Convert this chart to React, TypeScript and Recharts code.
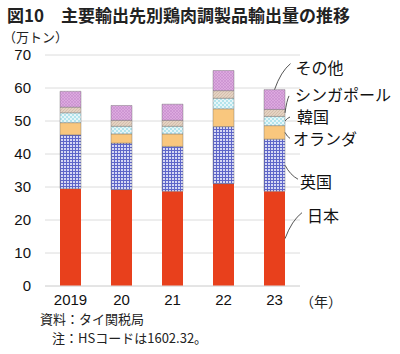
import React from "react";
import { BarChart, Bar, XAxis, YAxis, CartesianGrid, LabelList } from "recharts";

const years = ["2019", "20", "21", "22", "23"];
const japan = [29.5, 29.2, 28.7, 31.0, 28.7];
const uk = [16.3, 14.1, 13.6, 17.3, 15.8];
const netherlands = [3.7, 2.8, 3.8, 5.4, 4.1];
const korea = [3.0, 2.3, 2.3, 3.2, 2.8];
const singapore = [1.7, 1.8, 1.8, 2.3, 2.1];
const others = [4.8, 4.5, 4.9, 6.1, 6.0];
const yTicks = [0, 10, 20, 30, 40, 50, 60, 70];

const data = years.map((y, i) => ({
  year: y,
  japan: japan[i],
  uk: uk[i],
  netherlands: netherlands[i],
  korea: korea[i],
  singapore: singapore[i],
  others: others[i],
}));

const jpFont = "'Noto Sans CJK JP', 'Liberation Sans', sans-serif";

// where each series' name sits next to the last bar (offsets from the segment edge)
const labelPos: Record<string, { name: string; lx: number; ly: number; tx: number; ty: number; top?: boolean }> = {
  japan: { name: "日本", lx: 17, ly: -26, tx: 22, ty: -24 },
  uk: { name: "英国", lx: 13, ly: 14, tx: 15, ty: 16 },
  netherlands: { name: "オランダ", lx: 5, ly: 6, tx: 8, ty: 6 },
  korea: { name: "韓国", lx: 5, ly: -4, tx: 12, ty: -5 },
  singapore: { name: "シンガポール", lx: 4, ly: -17, tx: 10, ty: -19 },
  others: { name: "その他", lx: 16, ly: -26, tx: 21, ty: -23, top: true },
};

const makeLabel = (key: string) => (props: any) => {
  if (props.index !== years.length - 1) return null;
  const vb = props.viewBox || {};
  const x = props.x ?? vb.x;
  const y = props.y ?? vb.y;
  const w = props.width ?? vb.width;
  const hRaw = props.height ?? vb.height;
  const top = hRaw < 0 ? y + hRaw : y;
  const h = Math.abs(hRaw);
  const p = labelPos[key];
  const sx = p.top ? x + w / 2 : x + w;
  const sy = p.top ? top : top + h / 2;
  return (
    <g>
      <path
        d={`M${sx},${sy} Q${sx + p.lx * 0.4},${sy + p.ly * 0.7} ${sx + p.lx},${sy + p.ly}`}
        stroke="#555"
        strokeWidth={1}
        fill="none"
      />
      <text
        x={sx + p.tx}
        y={sy + p.ty}
        dominantBaseline="central"
        fontSize={16}
        fontFamily={jpFont}
        fill="#111"
      >
        {p.name}
      </text>
    </g>
  );
};

const barStroke = "#666";

export default function App() {
  return (
    <div style={{ position: "absolute", left: 0, top: 0, width: 400, height: 354, background: "#fff", fontFamily: jpFont }}>
      <div style={{ position: "absolute", left: 7, top: 5, fontSize: 17, lineHeight: "20px", fontWeight: 700, color: "#222", whiteSpace: "nowrap" }}>
        図10　主要輸出先別鶏肉調製品輸出量の推移
      </div>
      <div style={{ position: "absolute", left: 3, top: 30, fontSize: 13, lineHeight: "14px", color: "#222" }}>（万トン）</div>
      <BarChart
        width={400}
        height={354}
        data={data}
        margin={{ top: 55, right: 100, bottom: 38, left: 0 }}
        barSize={21}
      >
        <defs>
          <pattern id="pUk" width="3" height="3" patternUnits="userSpaceOnUse">
            <rect width="3" height="3" fill="#d6d8f4" />
            <path d="M0,0.5 H3 M0.5,0 V3" stroke="#5e66c9" strokeWidth="1" />
          </pattern>
          <pattern id="pKorea" width="4" height="4" patternUnits="userSpaceOnUse">
            <rect width="4" height="4" fill="#b3e4ec" />
            <circle cx="1" cy="1" r="0.9" fill="#fff" />
            <circle cx="3" cy="3" r="0.9" fill="#fff" />
          </pattern>
          <pattern id="pSing" width="3" height="3" patternUnits="userSpaceOnUse">
            <rect width="3" height="3" fill="#e4d2c2" />
            <path d="M0,3 L3,0" stroke="#c9b2a0" strokeWidth="0.6" />
          </pattern>
          <pattern id="pOther" width="3" height="3" patternUnits="userSpaceOnUse">
            <rect width="3" height="3" fill="#dca9df" />
            <path d="M0,3 L3,0 M0,0 L3,3" stroke="#c286c8" strokeWidth="0.5" />
          </pattern>
        </defs>
        <CartesianGrid vertical={false} stroke="#dcdcdc" />
        <XAxis
          dataKey="year"
          axisLine={{ stroke: "#dcdcdc" }}
          tickLine={false}
          height={30}
          tick={{ fontSize: 15, fill: "#111", fontFamily: "'Liberation Sans', Arial, sans-serif" }}
        />
        <YAxis
          width={45}
          domain={[0, 70]}
          ticks={yTicks}
          axisLine={false}
          tickLine={false}
          tickSize={12}
          tickMargin={2}
          tick={{ fontSize: 15, fill: "#111", fontFamily: "'Liberation Sans', Arial, sans-serif" }}
        />
        <Bar dataKey="japan" stackId="a" fill="#e8401c" isAnimationActive={false}>
          <LabelList dataKey="japan" content={makeLabel("japan")} />
        </Bar>
        <Bar dataKey="uk" stackId="a" fill="url(#pUk)" stroke={barStroke} strokeWidth={0.4} isAnimationActive={false}>
          <LabelList dataKey="uk" content={makeLabel("uk")} />
        </Bar>
        <Bar dataKey="netherlands" stackId="a" fill="#f9c77e" stroke={barStroke} strokeWidth={0.4} isAnimationActive={false}>
          <LabelList dataKey="netherlands" content={makeLabel("netherlands")} />
        </Bar>
        <Bar dataKey="korea" stackId="a" fill="url(#pKorea)" stroke={barStroke} strokeWidth={0.4} isAnimationActive={false}>
          <LabelList dataKey="korea" content={makeLabel("korea")} />
        </Bar>
        <Bar dataKey="singapore" stackId="a" fill="url(#pSing)" stroke={barStroke} strokeWidth={0.4} isAnimationActive={false}>
          <LabelList dataKey="singapore" content={makeLabel("singapore")} />
        </Bar>
        <Bar dataKey="others" stackId="a" fill="url(#pOther)" stroke={barStroke} strokeWidth={0.4} isAnimationActive={false}>
          <LabelList dataKey="others" content={makeLabel("others")} />
        </Bar>
      </BarChart>
      <div style={{ position: "absolute", left: 300, top: 293, fontSize: 14, lineHeight: "16px", color: "#222" }}>（年）</div>
      <div style={{ position: "absolute", left: 40, top: 311, fontSize: 13, lineHeight: "15px", color: "#222" }}>資料：タイ関税局</div>
      <div style={{ position: "absolute", left: 52, top: 330, fontSize: 13, lineHeight: "15px", color: "#222" }}>注：HSコードは1602.32。</div>
    </div>
  );
}
